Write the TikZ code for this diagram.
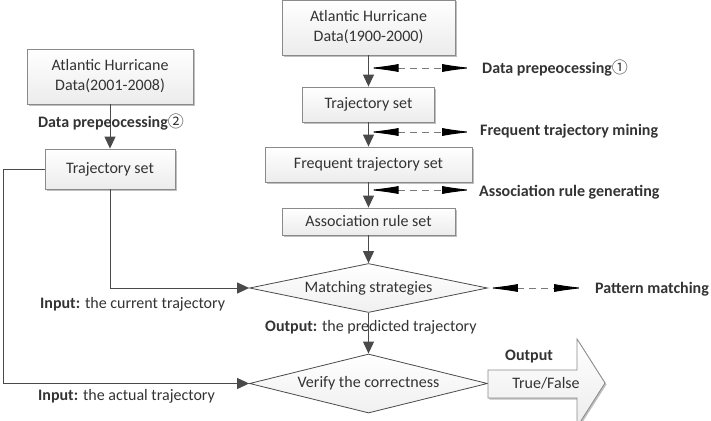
\documentclass[tikz,border=0pt]{standalone}
\usepackage{fontspec}
\setmainfont{Carlito}
\newfontfamily\cjkfont{Noto Sans CJK SC}
\usetikzlibrary{arrows.meta,shapes.geometric,shadows,calc}
\definecolor{txt}{HTML}{333333}
\definecolor{ln}{HTML}{4A4A4A}
\definecolor{bd}{HTML}{8A8A8A}
\definecolor{dsh}{HTML}{7A7A7A}
\begin{document}
\begin{tikzpicture}[x=1pt,y=-1pt,
  font=\fontsize{16pt}{20pt}\selectfont, text=txt,
  box/.style={draw=bd, line width=0.8pt, top color=white, bottom color=gray!15,
    inner sep=0pt, align=center,
    drop shadow={shadow xshift=1.5pt,shadow yshift=-1.5pt,opacity=0.25,fill=black}},
  dia/.style={diamond, draw=ln, line width=0.8pt, top color=white, bottom color=gray!12,
    inner sep=0pt, aspect=4.8},
  conn/.style={draw=ln, line width=1pt, -{Triangle[length=12pt,width=11pt]}},
  dasharr/.style={draw=dsh, line width=0.9pt, dash pattern=on 7pt off 5pt,
    {Latex[length=30pt,width=8pt,black]}-{Latex[length=30pt,width=8pt,black]}},
  lab/.style={font=\fontsize{16pt}{20pt}\selectfont\bfseries, anchor=west, inner sep=0pt},
  plain/.style={anchor=west, inner sep=0pt}]
\useasboundingbox (0,0) rectangle (711,420);

% right column boxes
\node[box, minimum width=173pt, minimum height=55pt] (top) at (368.5,27.5) {Atlantic Hurricane\\Data(1900-2000)};
\node[box, minimum width=132pt, minimum height=35pt] (ts1) at (368.5,104.5) {Trajectory set};
\node[box, minimum width=207pt, minimum height=35pt] (fts) at (368.5,164.5) {Frequent trajectory set};
\node[box, minimum width=173pt, minimum height=27pt] (ars) at (368.5,221.5) {Association rule set};
\node[dia, minimum width=238pt, minimum height=49pt] (match) at (368.5,288) {Matching strategies};
\node[dia, minimum width=238pt, minimum height=59pt] (verify) at (368.5,383.5) {Verify the correctness};

% left column boxes
\node[box, minimum width=166pt, minimum height=55pt] (left) at (110,76.5) {Atlantic Hurricane\\Data(2001-2008)};
\node[box, minimum width=130pt, minimum height=40pt] (ts2) at (110,169) {Trajectory set};

% main flow
\draw[conn] (top) -- (ts1);
\draw[conn] (ts1) -- (fts);
\draw[conn] (fts) -- (ars);
\draw[conn] (ars) -- (match);
\draw[conn] (match) -- (verify);
\draw[conn] (left) -- (ts2);
\draw[conn] (ts2.south) |- (match.west);
\coordinate (c1) at (3,0);
\draw[conn] (ts2.west) -- (ts2.west -| c1) |- (verify.west);

% dashed side arrows
\coordinate (e1) at (472,68);
\coordinate (e2) at (472,132);
\coordinate (e3) at (472,190);
\coordinate (e4) at (584,288);
\draw[dasharr] (top.south |- e1) -- (e1);
\draw[dasharr] (top.south |- e2) -- (e2);
\draw[dasharr] (top.south |- e3) -- (e3);
\draw[dasharr] (match.east) -- (e4);

\node[lab] (l1) at (482,68) {Data prepeocessing{\cjkfont\mdseries ①}};
\node[lab] (l2) at (480,131) {Frequent trajectory mining};
\node[lab] (l3) at (479,192) {Association rule generating};
\node[lab] (l4) at (595,289) {Pattern matching};
\node[lab, anchor=center] (l5) at (111,122) {Data prepeocessing{\cjkfont\mdseries ②}};

% inputs / outputs
\node[plain] (in1) at (40,304) {\textbf{Input:} the current trajectory};
\node[plain] (in2) at (38,396) {\textbf{Input:} the actual trajectory};
\node[plain] (out1) at (265,327) {\textbf{Output:} the predicted trajectory};

% big output arrow
\draw[draw=bd, line width=0.8pt, top color=white, bottom color=gray!15,
  drop shadow={shadow xshift=1.5pt,shadow yshift=-1.5pt,opacity=0.25,fill=black}]
  (verify.east |- 0,370) -- (577,370) -- (577,339) -- (605,383) -- (577,427)
  -- (577,398) -- (verify.east |- 0,398) -- cycle;
\node[lab] (out) at (505,357) {Output};
\node (tf) at (546,383) {True/False};
\end{tikzpicture}
\end{document}
